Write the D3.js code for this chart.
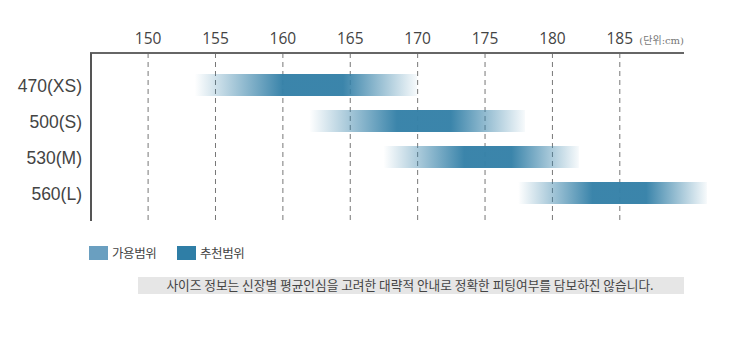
<!DOCTYPE html>
<html>
<head>
<meta charset="utf-8">
<script src="https://cdn.jsdelivr.net/npm/d3@7"></script>
<style>
  html, body { margin: 0; padding: 0; background: #fff; }
  svg { display: block; }
</style>
</head>
<body>
<svg id="chart" width="746" height="337"></svg>
<script>
// Frame sizes and the height ranges (cm) they fit
const sizes   = ["470(XS)", "500(S)", "530(M)", "560(L)"];
const fitMin  = [153.5, 162, 167.5, 177.5];   // start of 가용범위
const recMin  = [160, 168.5, 173.5, 183];     // start of 추천범위
const recMax  = [164.5, 172.5, 177, 187];     // end of 추천범위
const fitMax  = [170, 178, 182, 191.5];       // end of 가용범위
const heightTicks = [150, 155, 160, 165, 170, 175, 180, 185];
const legendItems = ["가용범위", "추천범위"];
const unitLabel = "(단위:cm)";
const noteText = "사이즈 정보는 신장별 평균인심을 고려한 대략적 안내로 정확한 피팅여부를 담보하진 않습니다.";

const barColor = "#3581a8";
const legendColors = ["#6a9fc0", "#2f7ea6"];
const textColor = "#444";

const svg = d3.select("#chart");
const plotTop = 53, plotBottom = 220, plotLeft = 91, plotRight = 684;

const x = d3.scaleLinear().domain([145.8, 189.8]).range([plotLeft, plotRight]);
const y = d3.scalePoint().domain(sizes).range([85, 193]);
const barH = 22;

const rows = sizes.map((s, i) => ({
  size: s, fitMin: fitMin[i], recMin: recMin[i], recMax: recMax[i], fitMax: fitMax[i]
}));

// Horizontal gradients: fade in over the usable range, solid over the recommended range
const defs = svg.append("defs");
rows.forEach((d, i) => {
  const span = d.fitMax - d.fitMin;
  const g = defs.append("linearGradient")
    .attr("id", "grad" + i)
    .attr("x1", "0%").attr("x2", "100%").attr("y1", "0%").attr("y2", "0%");
  const stops = [
    [0, 0],
    [(d.recMin - d.fitMin) / span, 0.97],
    [(d.recMax - d.fitMin) / span, 0.97],
    [1, 0.04]
  ];
  stops.forEach(([o, a]) => {
    g.append("stop")
      .attr("offset", o)
      .attr("stop-color", barColor)
      .attr("stop-opacity", a);
  });
});

// Top axis with dashed gridlines running down the plot
const xAxis = d3.axisTop(x)
  .tickValues(heightTicks)
  .tickSizeInner(-(plotBottom - plotTop))
  .tickSizeOuter(0)
  .tickPadding(9);

const gx = svg.append("g")
  .attr("transform", `translate(0,${plotTop})`)
  .call(xAxis);
gx.select(".domain").remove();
gx.selectAll(".tick line")
  .attr("stroke", "#777")
  .attr("stroke-width", 1)
  .attr("stroke-dasharray", "5,4");
gx.selectAll(".tick text")
  .attr("fill", textColor)
  .attr("font-family", "'Open Sans', 'Noto Sans', sans-serif")
  .attr("font-size", 15.5);

// Range bars
svg.append("g")
  .selectAll("rect")
  .data(rows)
  .join("rect")
  .attr("x", d => x(d.fitMin))
  .attr("y", d => y(d.size) - barH / 2)
  .attr("width", d => x(d.fitMax) - x(d.fitMin))
  .attr("height", barH)
  .attr("fill", (d, i) => `url(#grad${i})`);

// Axis frame lines
svg.append("line")
  .attr("x1", plotLeft - 1).attr("x2", plotRight)
  .attr("y1", plotTop).attr("y2", plotTop)
  .attr("stroke", "#666").attr("stroke-width", 2);
svg.append("line")
  .attr("x1", plotLeft).attr("x2", plotLeft)
  .attr("y1", plotTop).attr("y2", plotBottom + 1)
  .attr("stroke", "#555").attr("stroke-width", 2);

// Size labels
const yAxis = d3.axisLeft(y).tickSize(0).tickPadding(9);
const gy = svg.append("g")
  .attr("transform", `translate(${plotLeft},0)`)
  .call(yAxis);
gy.select(".domain").remove();
gy.selectAll(".tick text")
  .attr("fill", textColor)
  .attr("font-family", "'Liberation Sans', Arial, sans-serif")
  .attr("font-size", 17.5)
  .attr("dy", "0.35em");

// Unit note
svg.append("text")
  .attr("x", plotRight)
  .attr("y", 44)
  .attr("text-anchor", "end")
  .attr("fill", "#777")
  .attr("font-family", "'DejaVu Serif', 'Liberation Serif', 'Noto Sans CJK KR', serif")
  .attr("font-size", 10)
  .text(unitLabel);

// Legend
const legend = svg.append("g").attr("transform", "translate(89,246)");
const legX = [0, 88];
legendItems.forEach((label, i) => {
  const g = legend.append("g").attr("transform", `translate(${legX[i]},0)`);
  g.append("rect").attr("width", 19).attr("height", 14).attr("fill", legendColors[i]);
  g.append("text")
    .attr("x", 23).attr("y", 7)
    .attr("dy", "0.36em")
    .attr("fill", textColor)
    .attr("font-family", "'Noto Sans CJK KR', sans-serif")
    .attr("font-size", 12.5)
    .attr("letter-spacing", -0.4)
    .text(label);
});

// Disclaimer box
svg.append("rect")
  .attr("x", 138).attr("y", 277)
  .attr("width", plotRight - 138).attr("height", 17)
  .attr("fill", "#e6e6e6");
svg.append("text")
  .attr("x", 410).attr("y", 285.5)
  .attr("dy", "0.36em")
  .attr("text-anchor", "middle")
  .attr("fill", textColor)
  .attr("font-family", "'Noto Sans CJK KR', sans-serif")
  .attr("font-size", 12.7)
  .text(noteText);
</script>
</body>
</html>
